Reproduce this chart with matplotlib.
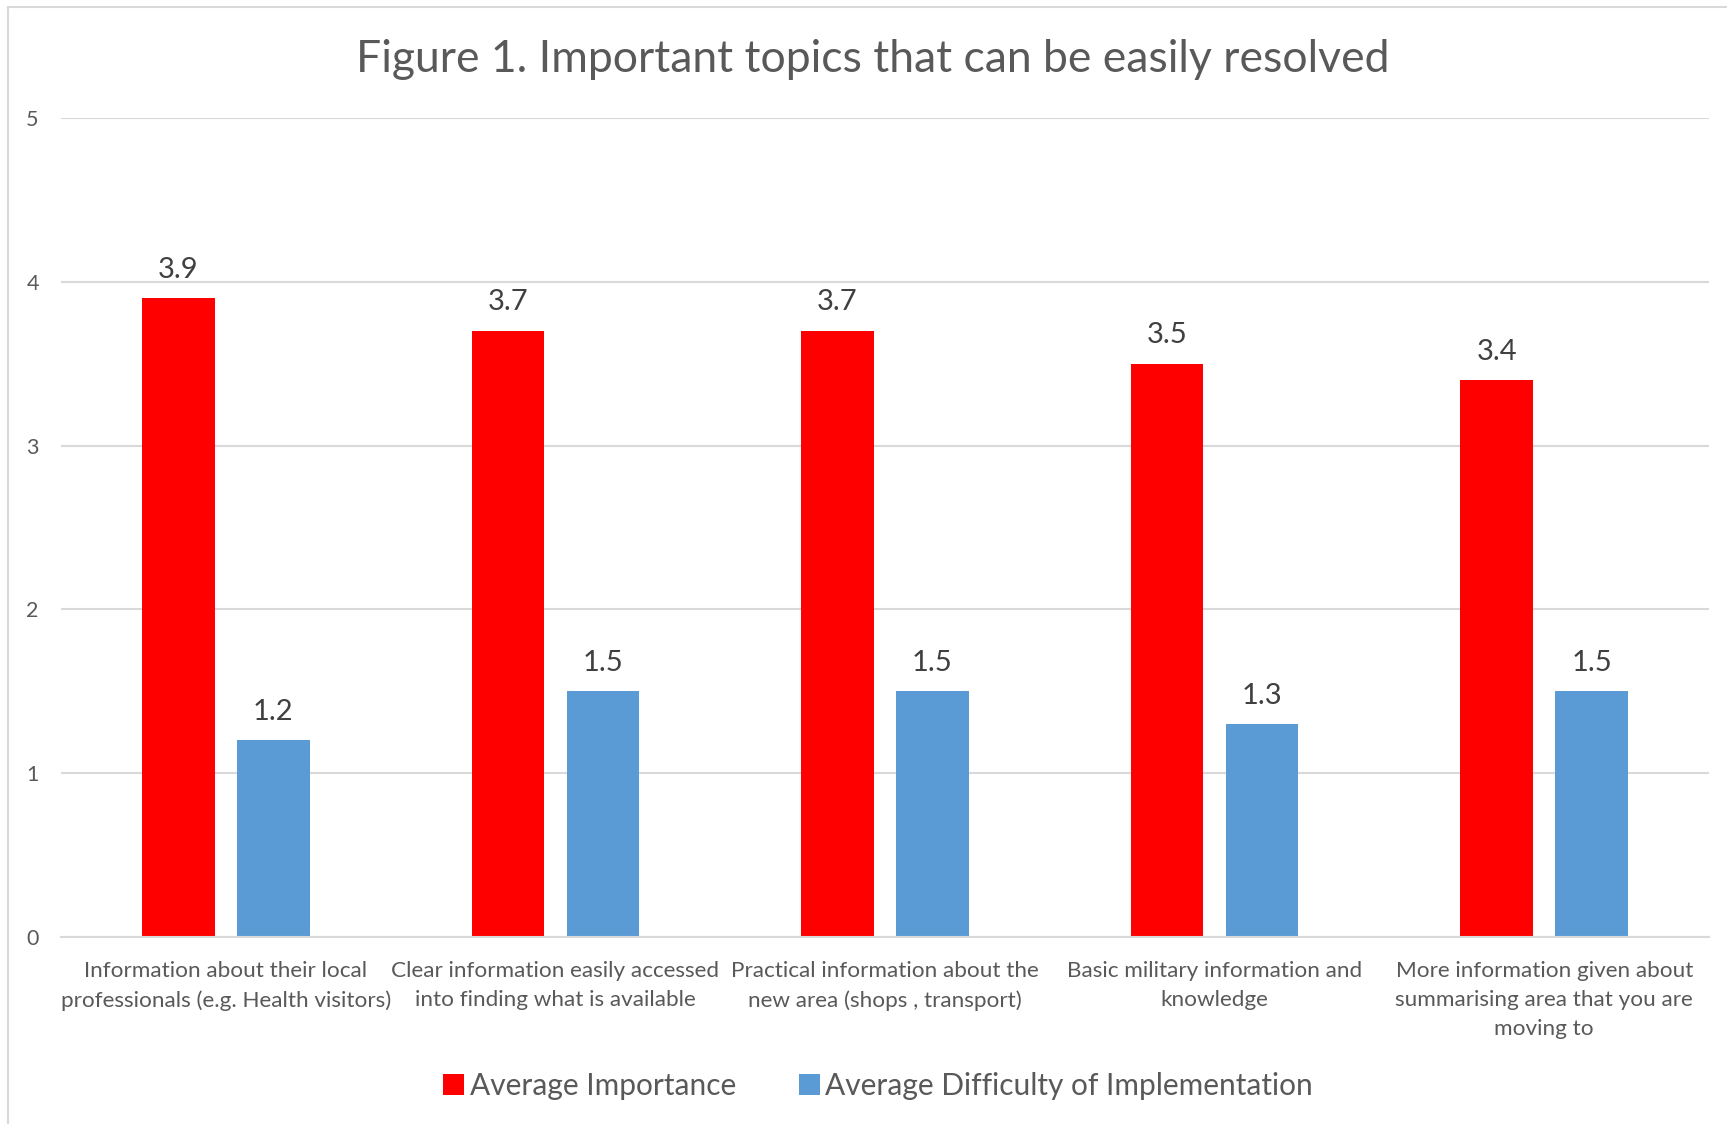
import matplotlib
matplotlib.use("Agg")
import matplotlib.pyplot as plt
import numpy as np
from matplotlib.patches import Rectangle

categories = [
    "Information about their local\nprofessionals (e.g. Health visitors)",
    "Clear information easily accessed\ninto finding what is available",
    "Practical information about the\nnew area (shops , transport)",
    "Basic military information and\nknowledge",
    "More information given about\nsummarising area that you are\nmoving to",
]
importance = [3.9, 3.7, 3.7, 3.5, 3.4]
difficulty = [1.2, 1.5, 1.5, 1.3, 1.5]
series_names = ["Average Importance", "Average Difficulty of Implementation"]
y_ticks = [0, 1, 2, 3, 4, 5]

RED = "#FF0000"
BLUE = "#5B9BD5"
TEXT = "#595959"
GRID = "#D9D9D9"

plt.rcParams["font.family"] = ["Lato", "DejaVu Sans"]

W, H = 1727, 1124
fig = plt.figure(figsize=(W / 100, H / 100), dpi=100)
fig.patch.set_facecolor("white")

# chart frame (only top and left edges fall inside the image)
fig.patches.append(Rectangle((8 / W, -0.1), 1.2, 1.1 - 7 / H, transform=fig.transFigure,
                             fill=False, edgecolor=GRID, linewidth=1.5))

left, right, top, bottom = 61, 1709, 118, 937
ax = fig.add_axes([left / W, 1 - bottom / H, (right - left) / W, (bottom - top) / H])

x = np.arange(len(categories))
width = 0.22
offset = 0.144
b1 = ax.bar(x - offset, importance, width, color=RED, label=series_names[0], zorder=3)
b2 = ax.bar(x + offset, difficulty, width, color=BLUE, label=series_names[1], zorder=3)

for bars, vals in ((b1, importance), (b2, difficulty)):
    for rect, v in zip(bars, vals):
        ax.annotate(f"{v}", (rect.get_x() + rect.get_width() / 2, v),
                    xytext=(0, 20.5), textcoords="offset points",
                    ha="center", va="center", fontsize=21, color="#404040")

ax.set_xlim(-0.5, len(categories) - 0.5)
ax.set_ylim(0, 5)
ax.set_yticks(y_ticks)
ax.set_yticklabels([str(t) for t in y_ticks])
ax.set_xticks(x)
ax.set_xticklabels(categories, fontsize=16.2, color=TEXT, linespacing=1.58, va="top")
ax.tick_params(axis="x", length=0, pad=17)
ax.tick_params(axis="y", length=0, pad=16, labelsize=15.5, labelcolor=TEXT)

ax.grid(axis="y", color=GRID, linewidth=1.5, zorder=0)
for s in ["top", "right", "left"]:
    ax.spines[s].set_visible(False)
ax.spines["bottom"].set_color(GRID)
ax.spines["bottom"].set_linewidth(1.5)
ax.spines["bottom"].set_zorder(4)

fig.text(873 / W, 1 - 60 / H, "Figure 1. Important topics that can be easily resolved",
         ha="center", va="center", fontsize=32, color=TEXT)

fig.legend(handles=[b1, b2], loc="center", bbox_to_anchor=(878 / W, 1 - 1086 / H),
           ncol=2, frameon=False, fontsize=21.5, labelcolor=TEXT,
           handlelength=0.7, handleheight=0.7, handletextpad=0.2, columnspacing=2.1)

fig.savefig("out.png", dpi=100, facecolor="white")
